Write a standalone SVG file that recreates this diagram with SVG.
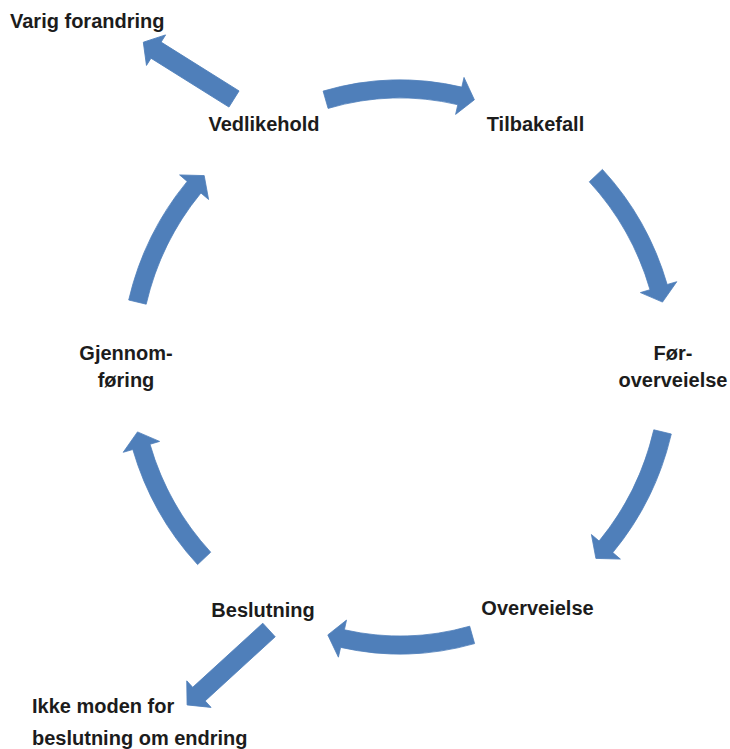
<svg xmlns="http://www.w3.org/2000/svg" width="730" height="749" viewBox="0 0 730 749">
  <style>
    .lbl { font-family: "Liberation Sans", Arial, sans-serif; font-weight: bold; font-size: 20px; fill: #1c1c1c; }
    .mid { text-anchor: middle; }
    .arr { fill: #4f7fba; stroke: #4f7fba; stroke-width: 0.8; stroke-linejoin: round; }
  </style>
  <rect width="730" height="749" fill="#ffffff"/>

  <g id="connectors">
    <path class="arr" d="M323.1,91.1 A279,287 0 0 1 461.8,87.1 L464.0,77.4 L474.4,99.8 L455.6,114.4 L457.8,104.7 A261,269 0 0 0 328.1,108.4 Z"/>
    <path class="arr" d="M602.4,169.4 A279,287 0 0 1 667.2,284.5 L676.8,281.7 L662.5,302.1 L640.4,292.6 L650.0,289.7 A261,269 0 0 0 589.3,181.8 Z"/>
    <path class="arr" d="M671.3,434.0 A279,287 0 0 1 612.8,552.6 L620.4,559.1 L595.9,558.4 L591.4,534.5 L599.1,541.0 A261,269 0 0 0 653.8,429.8 Z"/>
    <path class="arr" d="M474.6,643.6 A279,287 0 0 1 340.6,647.4 L338.4,657.2 L327.8,634.9 L346.5,620.1 L344.4,629.8 A261,269 0 0 0 469.7,626.2 Z"/>
    <path class="arr" d="M197.6,564.6 A279,287 0 0 1 132.8,449.5 L123.2,452.3 L137.5,431.9 L159.6,441.4 L150.0,444.3 A261,269 0 0 0 210.7,552.2 Z"/>
    <path class="arr" d="M128.7,300.0 A279,287 0 0 1 187.2,181.4 L179.6,174.9 L204.2,175.6 L208.6,199.5 L200.9,193.0 A261,269 0 0 0 146.2,304.2 Z"/>
    <polygon class="arr" transform="translate(234,99) rotate(212.06)" points="0,-9.5 92,-9.5 92,-18 107,0 92,18 92,9.5 0,9.5"/>
    <polygon class="arr" transform="translate(269,630) rotate(137.55)" points="0,-9.2 95,-9.2 95,-18 111,0 95,18 95,9.2 0,9.2"/>
  </g>

  <g id="node-varig">
    <text class="lbl" x="10" y="28">Varig forandring</text>
  </g>
  <g id="node-vedlikehold">
    <text class="lbl mid" x="264" y="131">Vedlikehold</text>
  </g>
  <g id="node-tilbakefall">
    <text class="lbl mid" x="535.5" y="131">Tilbakefall</text>
  </g>
  <g id="node-foroverveielse">
    <text class="lbl mid" x="673" y="360">Før-</text>
    <text class="lbl mid" x="673" y="387">overveielse</text>
  </g>
  <g id="node-overveielse">
    <text class="lbl mid" x="537.5" y="615">Overveielse</text>
  </g>
  <g id="node-beslutning">
    <text class="lbl mid" x="263" y="617">Beslutning</text>
  </g>
  <g id="node-gjennomforing">
    <text class="lbl mid" x="126" y="360">Gjennom-</text>
    <text class="lbl mid" x="126" y="387">føring</text>
  </g>
  <g id="node-ikke-moden">
    <text class="lbl" x="32" y="713">Ikke moden for</text>
    <text class="lbl" x="32" y="745">beslutning om endring</text>
  </g>
</svg>
